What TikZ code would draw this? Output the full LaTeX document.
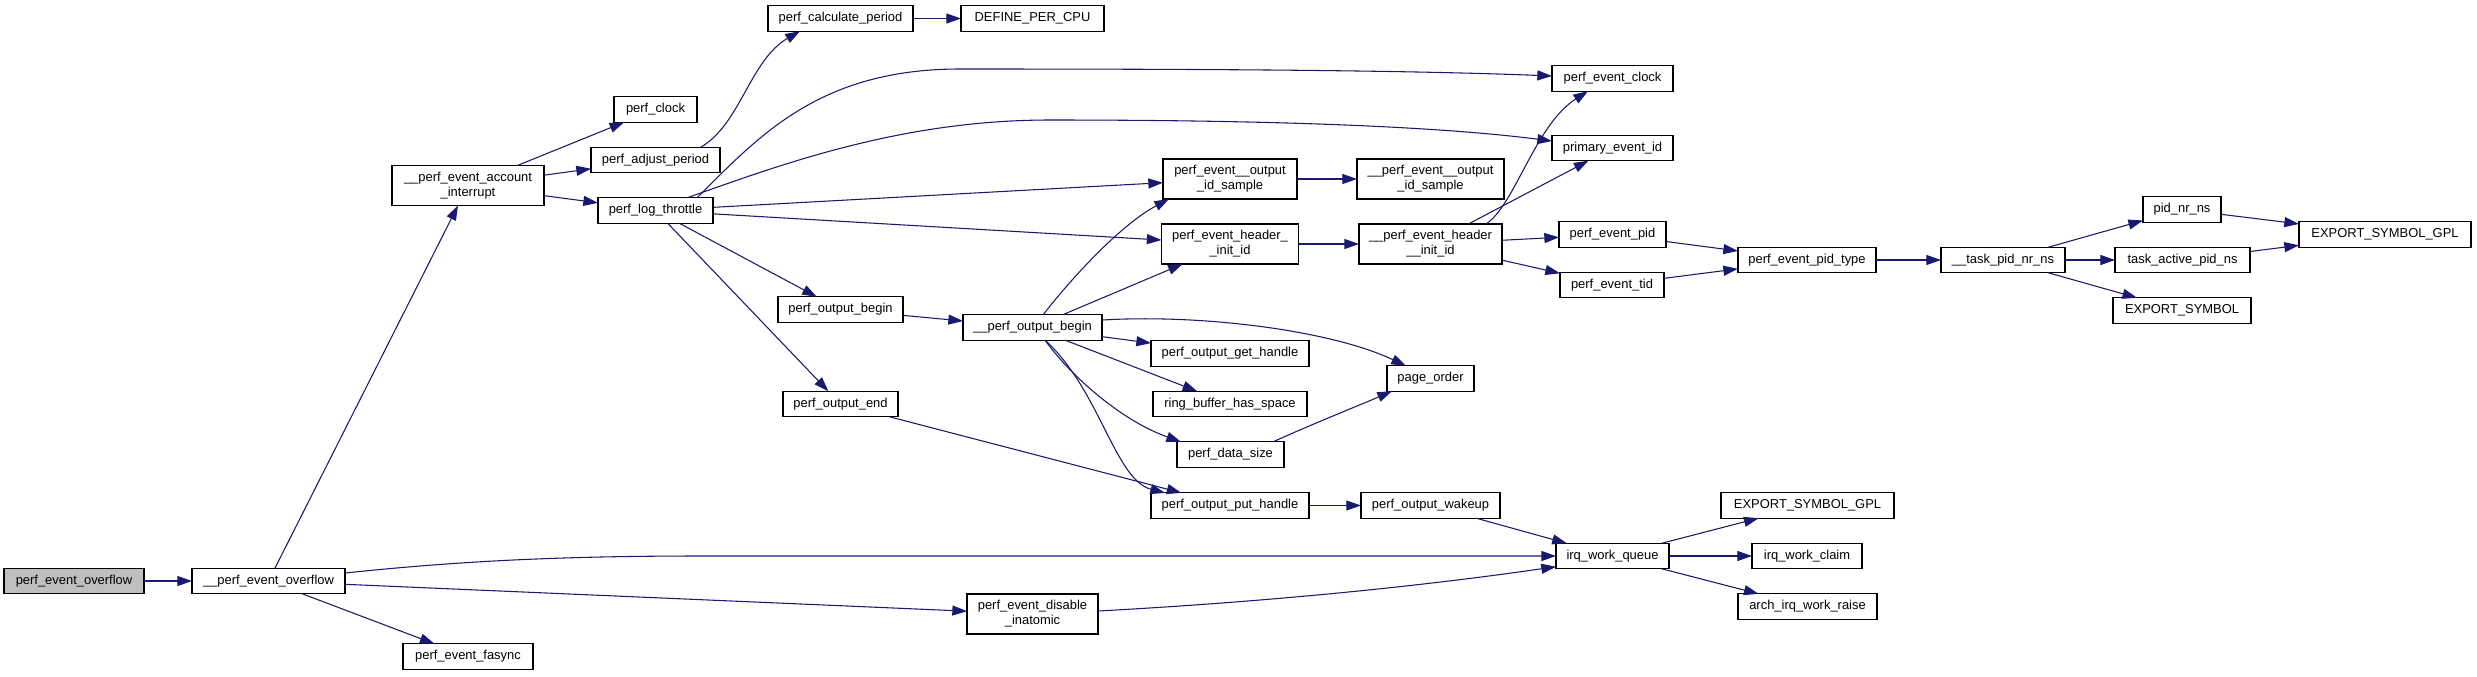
\documentclass[tikz,border=0pt]{standalone}
\usepackage{fontspec}
\setmainfont{Liberation Sans}
\usetikzlibrary{arrows.meta}
\definecolor{edgeblue}{HTML}{191970}
\definecolor{rootgrey}{HTML}{BFBFBF}
\begin{document}
\begin{tikzpicture}[x=0.75pt,y=-0.75pt,
  fn/.style={draw=black, line width=0.9pt, fill=white, rectangle, inner xsep=1pt, inner ysep=1pt, outer sep=0pt,
    minimum height=19pt, minimum width={#1*0.75pt}, font=\fontsize{9.7}{11.2}\selectfont, align=center, text=black},
  fntwo/.style={fn=#1, minimum height=30pt},
  edge/.style={draw=edgeblue, line width=0.8pt, -{Triangle[length=11pt,width=7.5pt]}},
]
\fill[white] (0,0) rectangle (2477,676);
\useasboundingbox (0,0) rectangle (2477,676);

\node[fn=140, fill=rootgrey] (peo) at (74,581) {perf\_event\_overflow};
\node[fn=153] (peo2) at (268.5,581) {\_\_perf\_event\_overflow};
\node[fntwo=152] (acc) at (468,185.5) {\_\_perf\_event\_account\\\_interrupt};
\node[fn=130] (fasync) at (468,656.5) {perf\_event\_fasync};
\node[fn=83] (clock) at (655.5,109.5) {perf\_clock};
\node[fn=129] (adjust) at (655.5,160) {perf\_adjust\_period};
\node[fn=115] (throttle) at (655.5,210.5) {perf\_log\_throttle};
\node[fn=145] (calc) at (840.5,18.5) {perf\_calculate\_period};
\node[fn=125] (obegin) at (840.5,309.5) {perf\_output\_begin};
\node[fn=115] (oend) at (840.5,404) {perf\_output\_end};
\node[fn=143] (defcpu) at (1032.5,18.5) {DEFINE\_PER\_CPU};
\node[fn=139] (pob) at (1032.5,327.5) {\_\_perf\_output\_begin};
\node[fntwo=131] (disable) at (1032.5,614) {perf\_event\_disable\\\_inatomic};
\node[fntwo=134] (oids) at (1230,179) {perf\_event\_\_output\\\_id\_sample};
\node[fntwo=137] (hdr) at (1230,244) {perf\_event\_header\_\\\_init\_id};
\node[fn=158] (gethandle) at (1230,353.5) {perf\_output\_get\_handle};
\node[fn=154] (ring) at (1230,404) {ring\_buffer\_has\_space};
\node[fn=107] (datasize) at (1230.5,454.5) {perf\_data\_size};
\node[fn=158] (puthandle) at (1230,505.5) {perf\_output\_put\_handle};
\node[fntwo=147] (oids2) at (1430.5,179) {\_\_perf\_event\_\_output\\\_id\_sample};
\node[fntwo=143] (hdr2) at (1430.5,244) {\_\_perf\_event\_header\\\_\_init\_id};
\node[fn=87] (pageorder) at (1430.5,378.5) {page\_order};
\node[fn=139] (wakeup) at (1430.5,505.5) {perf\_output\_wakeup};
\node[fn=121] (evclock) at (1612.5,78.5) {perf\_event\_clock};
\node[fn=121] (primary) at (1612.5,148) {primary\_event\_id};
\node[fn=107] (evpid) at (1612.5,234.5) {perf\_event\_pid};
\node[fn=104] (evtid) at (1612,285) {perf\_event\_tid};
\node[fn=113] (irq) at (1612.5,556) {irq\_work\_queue};
\node[fn=138] (pidtype) at (1807,260) {perf\_event\_pid\_type};
\node[fn=173] (esg2) at (1807.5,505.5) {EXPORT\_SYMBOL\_GPL};
\node[fn=110] (claim) at (1807,556) {irq\_work\_claim};
\node[fn=139] (raise) at (1807.5,606.5) {arch\_irq\_work\_raise};
\node[fn=124] (tpid) at (2003,260) {\_\_task\_pid\_nr\_ns};
\node[fn=78] (pidnr) at (2182,209.5) {pid\_nr\_ns};
\node[fn=135] (active) at (2182.5,260) {task\_active\_pid\_ns};
\node[fn=138] (es) at (2182,310.5) {EXPORT\_SYMBOL};
\node[fn=172] (esg1) at (2385,234.5) {EXPORT\_SYMBOL\_GPL};

\draw[edge] (peo) -- (peo2);
\draw[edge] (peo2) -- (acc);
\draw[edge] ([yshift=6pt]peo2.east) .. controls (450,562) and (550,556) .. (700,556) -- (irq.west);
\draw[edge] (peo2) -- (disable);
\draw[edge] (peo2) -- (fasync);
\draw[edge] (acc) -- (clock);
\draw[edge] (acc) -- (adjust);
\draw[edge] (acc) -- (throttle);
\draw[edge] ([xshift=33.75pt]adjust.north) .. controls (740,125) and (750,60) .. ([xshift=-30.4pt]calc.south);
\draw[edge] (calc) -- (defcpu);
\draw[edge] ([xshift=31.1pt]throttle.north) .. controls (760,135) and (820,69) .. (960,69) .. controls (1200,69) and (1400,70) .. ([yshift=1.9pt]evclock.west);
\draw[edge] ([xshift=23.6pt]throttle.north) .. controls (780,165) and (900,120) .. (1050,120) .. controls (1300,120) and (1450,128) .. ([yshift=5.25pt]primary.west);
\draw[edge] (throttle) -- (oids);
\draw[edge] (throttle) -- (hdr);
\draw[edge] (throttle) -- (obegin);
\draw[edge] (throttle) -- (oend);
\draw[edge] (obegin) -- (pob);
\draw[edge] ([xshift=7.9pt]pob.north) .. controls (1070,280) and (1120,225) .. ([xshift=-45.75pt]oids.south);
\draw[edge] (pob) -- (hdr);
\draw[edge] ([yshift=5.6pt]pob.east) .. controls (1200,314) and (1330,330) .. ([xshift=-18.4pt]pageorder.north);
\draw[edge] (pob) -- (gethandle);
\draw[edge] (pob) -- (ring);
\draw[edge] ([xshift=9.4pt]pob.south) .. controls (1070,375) and (1120,420) .. ([xshift=-37.1pt]datasize.north);
\draw[edge] ([xshift=9.4pt]pob.south) .. controls (1100,390) and (1115,480) .. ([xshift=-48.75pt]puthandle.north);
\draw[edge] (oend) -- (puthandle);
\draw[edge] ([xshift=31.9pt]datasize.north) .. controls (1310,425) and (1360,405) .. ([xshift=-28.9pt]pageorder.south);
\draw[edge] (oids) -- (oids2);
\draw[edge] (hdr) -- (hdr2);
\draw[edge] ([xshift=41.6pt]hdr2.north) .. controls (1515,205) and (1535,125) .. ([xshift=-18.4pt]evclock.south);
\draw[edge] (hdr2) -- (primary);
\draw[edge] (hdr2) -- (evpid);
\draw[edge] (hdr2) -- (evtid);
\draw[edge] (evpid) -- (pidtype);
\draw[edge] (evtid) -- (pidtype);
\draw[edge] (pidtype) -- (tpid);
\draw[edge] (tpid) -- (pidnr);
\draw[edge] (tpid) -- (active);
\draw[edge] (tpid) -- (es);
\draw[edge] (pidnr) -- (esg1);
\draw[edge] (active) -- (esg1);
\draw[edge] (puthandle) -- (wakeup);
\draw[edge] (wakeup) -- (irq);
\draw[edge] ([yshift=2.25pt]disable.east) .. controls (1300,600) and (1450,582) .. ([yshift=-8pt]irq.west);
\draw[edge] (irq) -- (esg2);
\draw[edge] (irq) -- (claim);
\draw[edge] (irq) -- (raise);
\end{tikzpicture}
\end{document}
